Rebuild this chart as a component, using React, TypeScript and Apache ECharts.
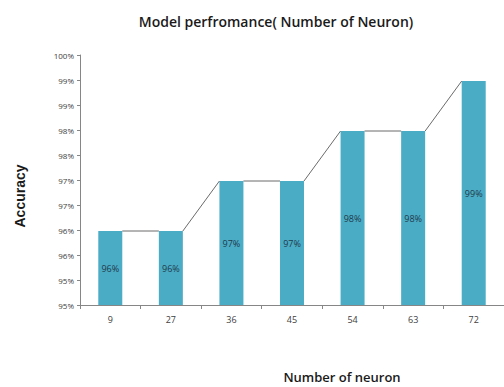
import React, { useEffect, useRef } from "react";
import * as echarts from "echarts";

const neurons = ["9", "27", "36", "45", "54", "63", "72"];
const accuracy = [96.48, 96.48, 97.48, 97.48, 98.48, 98.48, 99.48];
const yMin = 95;
const yMax = 100;
const yStep = 0.5;

const BAR_W = 24;

// whole-percent label, halves shown as the lower percent
const pct = (v: number) => Math.round(v - 0.001) + "%";

export default function App() {
  const ref = useRef<HTMLDivElement>(null);

  useEffect(() => {
    if (!ref.current) return;
    const chart = echarts.init(ref.current, null, { renderer: "svg" });

    // pairs of neighbouring bars, joined by a series line
    const links = accuracy.slice(0, -1).map((v, i) => [i, v, accuracy[i + 1]]);

    chart.setOption({
      animation: false,
      backgroundColor: "#ffffff",
      title: {
        text: "Model perfromance( Number of Neuron)",
        left: 271,
        top: 9,
        textAlign: "center",
        textStyle: {
          fontFamily: "Open Sans",
          fontWeight: 600,
          fontSize: 14,
          color: "#1a1a1a",
        },
      },
      graphic: [
        {
          type: "text",
          x: 20,
          y: 196,
          rotation: Math.PI / 2,
          style: {
            text: "Accuracy",
            fontFamily: "Liberation Sans",
            fontWeight: "bold",
            fontSize: 14,
            fill: "#1a1a1a",
            align: "center",
            verticalAlign: "middle",
          },
        },
        {
          type: "text",
          x: 342,
          y: 377,
          style: {
            text: "Number of neuron",
            fontFamily: "Open Sans",
            fontWeight: 600,
            fontSize: 13,
            fill: "#1a1a1a",
            align: "center",
            verticalAlign: "middle",
          },
        },
      ],
      grid: { left: 80, right: -10, top: 55, bottom: 82 },
      xAxis: {
        type: "category",
        data: neurons,
        axisLine: { lineStyle: { color: "#868686", width: 1 } },
        axisTick: { show: true, length: 4, lineStyle: { color: "#868686" } },
        axisLabel: {
          fontFamily: "Open Sans",
          fontSize: 9,
          color: "#404040",
          margin: 10,
        },
      },
      yAxis: {
        type: "value",
        min: yMin,
        max: yMax,
        interval: yStep,
        splitLine: { show: false },
        axisLine: { show: true, lineStyle: { color: "#868686", width: 1 } },
        axisTick: { show: true, length: 3, lineStyle: { color: "#868686" } },
        axisLabel: {
          fontFamily: "Open Sans",
          fontSize: 8,
          color: "#404040",
          margin: 6,
          formatter: (v: number) => pct(v),
        },
      },
      series: [
        {
          type: "bar",
          data: accuracy,
          barWidth: BAR_W,
          itemStyle: { color: "#4bacc6" },
          label: {
            show: true,
            position: "inside",
            fontFamily: "Open Sans",
            fontSize: 9,
            color: "#1f3a4a",
            formatter: (p: any) => pct(p.value),
          },
        },
        {
          type: "custom",
          data: links,
          z: 3,
          renderItem: (params: any, api: any) => {
            const i = api.value(0);
            const a = api.coord([i, api.value(1)]);
            const b = api.coord([i + 1, api.value(2)]);
            return {
              type: "line",
              shape: {
                x1: a[0] + BAR_W / 2,
                y1: a[1],
                x2: b[0] - BAR_W / 2,
                y2: b[1],
              },
              style: { stroke: "#6b6b6b", lineWidth: 1 },
            };
          },
        },
      ],
    });

    return () => chart.dispose();
  }, []);

  return (
    <div
      ref={ref}
      style={{ position: "fixed", left: 0, top: 0, width: 504, height: 387 }}
    />
  );
}
